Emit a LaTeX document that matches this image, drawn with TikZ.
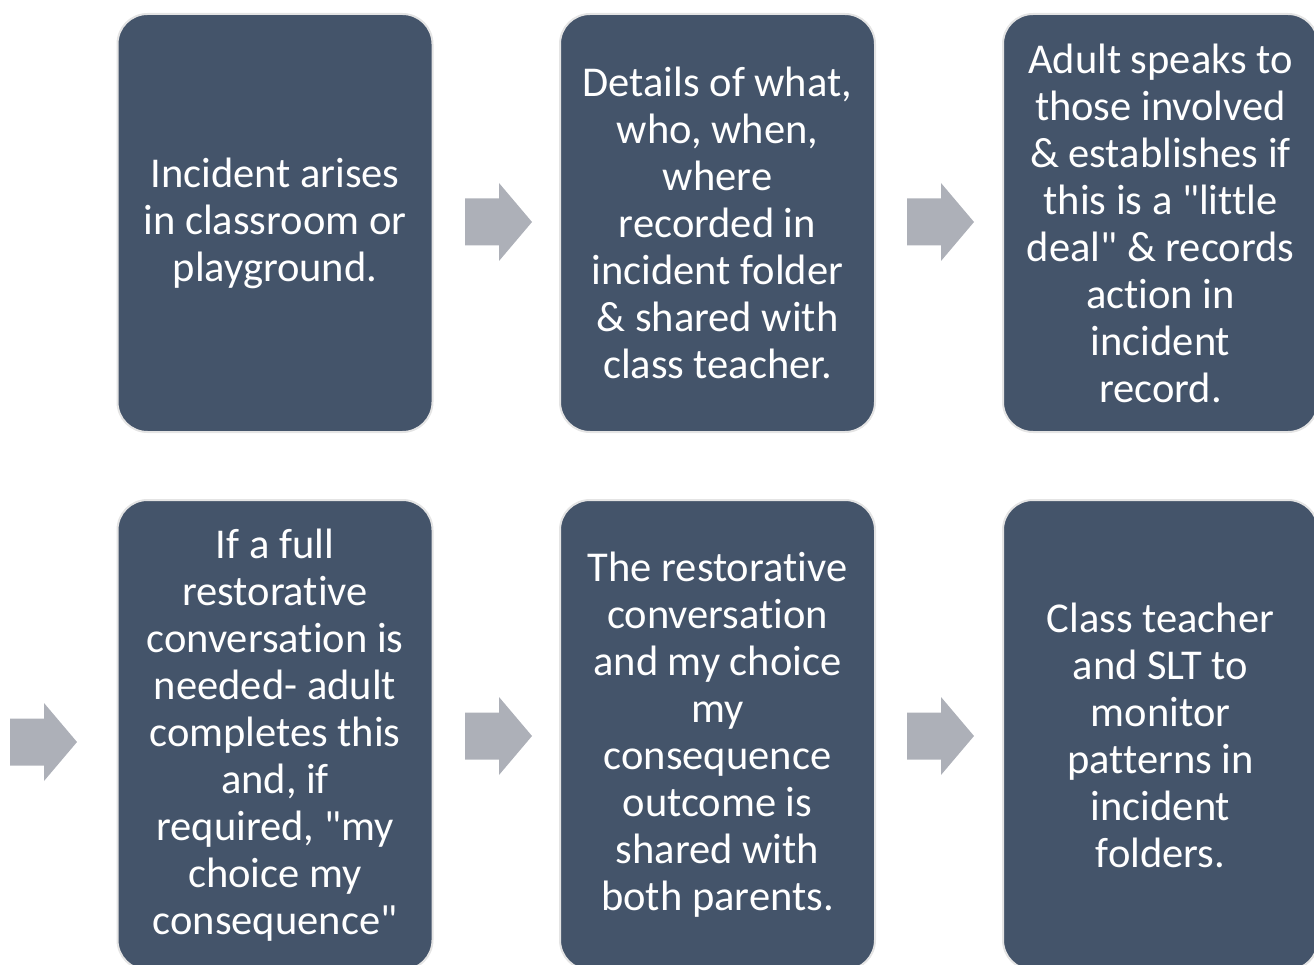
\documentclass[tikz,border=0pt]{standalone}
\usepackage{fontspec}
\setmainfont{Carlito}[Ligatures={TeXOff,NoCommon}]
\begin{document}
\begin{tikzpicture}[x=1pt,y=-1pt,
  stagebox/.style={draw=boxedge, line width=2pt, fill=boxfill, rounded corners=30pt,
    minimum width=315pt, text=white, align=center, inner sep=0pt,
    font=\fontsize{42.5}{47}\selectfont},
  toprow/.style={stagebox, minimum height=418pt},
  bottomrow/.style={stagebox, minimum height=470pt},
  garrow/.pic={\fill[arrowgrey] (0,-23.5) -- (34,-23.5) -- (34,-39) -- (67,0)
      -- (34,39) -- (34,23.5) -- (0,23.5) -- cycle;}
]
\definecolor{boxfill}{HTML}{44546A}
\definecolor{boxedge}{HTML}{E4E4E4}
\definecolor{arrowgrey}{HTML}{ADB0B8}
\useasboundingbox (0,0) rectangle (1314,965);
\clip (0,0) rectangle (1314,965);

% first row
\node[toprow] (incident) at (275,223) {Incident arises\\in classroom or\\playground.};
\node[toprow] (details) at (717.5,223) {Details of what,\\who, when,\\where\\recorded in\\incident folder\\\& shared with\\class teacher.};
\node[toprow] (adult) at (1160.5,223) {Adult speaks to\\those involved\\\& establishes if\\this is a "little\\deal" \& records\\action in\\incident\\record.};

% second row
\node[bottomrow] (restorative) at (275,735) {If a full\\restorative\\conversation is\\needed- adult\\completes this\\and, if\\required, "my\\choice my\\consequence"};
\node[bottomrow] (shared) at (717.5,735) {The restorative\\conversation\\and my choice\\my\\consequence\\outcome is\\shared with\\both parents.};
\node[bottomrow] (monitor) at (1160.5,735) {Class teacher\\and SLT to\\monitor\\patterns in\\incident\\folders.};

% block arrows between the stages
\coordinate (a1) at (465,222);
\coordinate (a2) at (907,222);
\coordinate (a3) at (10,742);
\coordinate (a4) at (465,736);
\coordinate (a5) at (907,736);
\foreach \c in {a1,a2,a3,a4,a5} \pic at (\c) {garrow};
\end{tikzpicture}
\end{document}
